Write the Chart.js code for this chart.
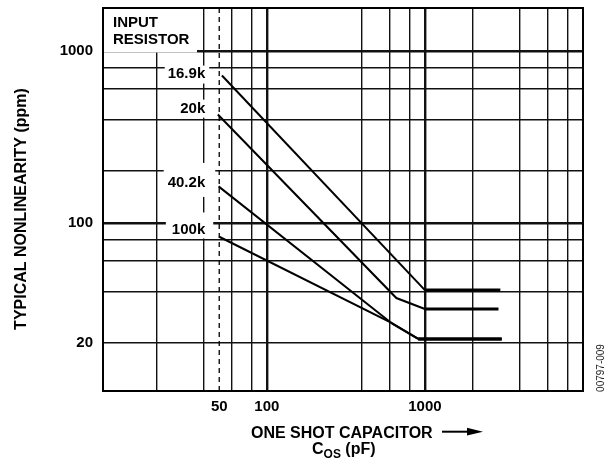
<!DOCTYPE html>
<html>
<head>
<meta charset="utf-8">
<script src="https://cdn.jsdelivr.net/npm/chart.js@4.4.0/dist/chart.umd.min.js"></script>
<style>
  html, body { margin: 0; padding: 0; background: #fff; }
  #wrap { width: 614px; height: 461px; position: relative; }
</style>
</head>
<body>
<div id="wrap"><canvas id="c"></canvas></div>
<script>
// ---- Data ----
const SERIES_NAMES = ['16.9k', '20k', '40.2k', '100k'];
const R169K_X = [52, 1000, 3000];
const R169K_Y = [720, 40.6, 40.6];
const R20K_X = [49, 660, 1000, 2920];
const R20K_Y = [427, 36.5, 31.5, 31.5];
const R402K_X = [49.5, 625, 910, 3060];
const R402K_Y = [163, 25.8, 21.1, 21.1];
const R100K_X = [50, 615, 905, 3060];
const R100K_Y = [83, 26.2, 21.1, 21.1];

// label anchor values (ppm) for series names
const LABEL_Y = [739, 462, 173, 91.5];

const X_GRID = [20, 40, 50, 60, 80, 100, 400, 600, 800, 1000, 2000, 4000, 6000, 8000];
const X_TICK_LABELS = [50, 100, 1000];
const Y_GRID = [20, 40, 60, 80, 100, 200, 400, 600, 800, 1000];
const Y_TICK_LABELS = [20, 100, 1000];
const DASH_X = 50;
const X_MIN = 9.2, X_MAX = 10000;
const Y_MIN = 10.5, Y_MAX = 1780;

const FONT = "'Liberation Sans', Arial, sans-serif";

function pts(xs, ys) { return xs.map((x, i) => ({ x: x, y: ys[i] })); }

const seriesData = [
  pts(R169K_X, R169K_Y),
  pts(R20K_X, R20K_Y),
  pts(R402K_X, R402K_Y),
  pts(R100K_X, R100K_Y)
];

// box paddings around each series label: [left, right, up, down]
const LABEL_BOX = [[3, 4, 8, 10], [3, 4, 9, 9], [4, 10, 19, 15], [6, 8, 17, 9]];

const annot = {
  id: 'annot',
  beforeDatasetsDraw(chart) {
    const { ctx, chartArea: a, scales: { x, y } } = chart;
    ctx.save();
    // dashed 50 pF line
    const xd = x.getPixelForValue(DASH_X);
    ctx.strokeStyle = '#000';
    ctx.lineWidth = 1.3;
    ctx.setLineDash([5, 4]);
    ctx.beginPath();
    ctx.moveTo(xd, a.top);
    ctx.lineTo(xd, a.bottom);
    ctx.stroke();
    ctx.setLineDash([]);

    // INPUT RESISTOR box
    ctx.fillStyle = '#fff';
    ctx.fillRect(a.left, a.top, 94, 44.5);
    ctx.fillStyle = '#000';
    ctx.font = 'bold 15px ' + FONT;
    ctx.textAlign = 'left';
    ctx.textBaseline = 'middle';
    ctx.fillText('INPUT', a.left + 10, a.top + 15);
    ctx.fillText('RESISTOR', a.left + 10, a.top + 31.5);

    // series labels
    ctx.textAlign = 'right';
    const tr = xd - 14;
    SERIES_NAMES.forEach((name, i) => {
      const cy = y.getPixelForValue(LABEL_Y[i]);
      const w = ctx.measureText(name).width;
      const b = LABEL_BOX[i];
      ctx.fillStyle = '#fff';
      ctx.fillRect(tr - w - b[0], cy - b[2], w + b[0] + b[1], b[2] + b[3]);
      ctx.fillStyle = '#000';
      ctx.fillText(name, tr, cy + 0.5);
    });

    // frame
    ctx.strokeStyle = '#000';
    ctx.lineWidth = 2;
    ctx.strokeRect(a.left, a.top, a.right - a.left, a.bottom - a.top);
    ctx.restore();
  },
  afterDraw(chart) {
    const { ctx } = chart;
    ctx.save();
    ctx.fillStyle = '#000';
    // y title
    ctx.save();
    ctx.translate(22, 209);
    ctx.rotate(-Math.PI / 2);
    ctx.font = 'bold 16px ' + FONT;
    ctx.textAlign = 'center';
    ctx.textBaseline = 'middle';
    ctx.fillText('TYPICAL NONLINEARITY (ppm)', 0, 0);
    ctx.restore();

    // x title
    ctx.font = 'bold 16px ' + FONT;
    ctx.textAlign = 'left';
    ctx.textBaseline = 'alphabetic';
    ctx.fillText('ONE SHOT CAPACITOR', 251, 437.5);
    // arrow
    ctx.strokeStyle = '#000';
    ctx.lineWidth = 2;
    ctx.beginPath();
    ctx.moveTo(442, 431.7);
    ctx.lineTo(470, 431.7);
    ctx.stroke();
    ctx.beginPath();
    ctx.moveTo(467, 427.8);
    ctx.lineTo(483, 431.7);
    ctx.lineTo(467, 435.6);
    ctx.closePath();
    ctx.fill();

    // C_OS (pF)
    let xx = 312;
    ctx.font = 'bold 16px ' + FONT;
    ctx.fillText('C', xx, 453.5);
    xx += ctx.measureText('C').width;
    ctx.font = 'bold 12px ' + FONT;
    ctx.fillText('OS', xx, 457.5);
    xx += ctx.measureText('OS').width;
    ctx.font = 'bold 16px ' + FONT;
    ctx.fillText(' (pF)', xx, 453.5);

    // figure id
    ctx.save();
    ctx.translate(601, 368);
    ctx.rotate(-Math.PI / 2);
    ctx.font = '10px ' + FONT;
    ctx.fillStyle = '#222';
    ctx.textAlign = 'center';
    ctx.textBaseline = 'middle';
    ctx.fillText('00797-009', 0, 0);
    ctx.restore();
    ctx.restore();
  }
};

const gridWidth = (ctx) => (ctx.tick && (ctx.tick.value === 100 || ctx.tick.value === 1000)) ? 2.4 : 1.4;

new Chart(document.getElementById('c'), {
  type: 'scatter',
  data: {
    datasets: SERIES_NAMES.map((name, i) => ({
      label: name,
      data: seriesData[i],
      showLine: true,
      borderColor: '#000',
      backgroundColor: '#000',
      borderWidth: 2,
      pointRadius: 0,
      fill: false,
      tension: 0,
      segment: {
        borderWidth: (c) => (c.p0.parsed.y === c.p1.parsed.y ? 3 : 2)
      }
    }))
  },
  options: {
    responsive: true,
    maintainAspectRatio: false,
    animation: false,
    layout: { padding: { top: 8, right: 31, left: 0, bottom: 0 } },
    plugins: { legend: { display: false }, tooltip: { enabled: false } },
    scales: {
      x: {
        type: 'logarithmic',
        min: X_MIN,
        max: X_MAX,
        afterBuildTicks: (s) => { s.ticks = X_GRID.map(v => ({ value: v })); },
        afterFit: (s) => { s.height = 70; s.paddingLeft = 0; s.paddingRight = 0; },
        ticks: {
          autoSkip: false,
          maxRotation: 0,
          padding: 7,
          color: '#000',
          font: { family: FONT, size: 15, weight: 'bold' },
          callback: (v) => X_TICK_LABELS.includes(v) ? String(v) : ''
        },
        grid: {
          drawTicks: false,
          color: (c) => (c.tick && c.tick.value === DASH_X) ? 'rgba(0,0,0,0)' : '#111',
          lineWidth: gridWidth
        },
        border: { display: false }
      },
      y: {
        type: 'logarithmic',
        min: Y_MIN,
        max: Y_MAX,
        afterBuildTicks: (s) => { s.ticks = Y_GRID.map(v => ({ value: v })); },
        afterFit: (s) => { s.width = 103; s.paddingTop = 0; s.paddingBottom = 0; },
        ticks: {
          autoSkip: false,
          padding: 10,
          color: '#000',
          font: { family: FONT, size: 15, weight: 'bold' },
          callback: (v) => Y_TICK_LABELS.includes(v) ? String(v) : ''
        },
        grid: {
          drawTicks: false,
          color: '#111',
          lineWidth: gridWidth
        },
        border: { display: false }
      }
    }
  },
  plugins: [annot]
});
</script>
</body>
</html>
